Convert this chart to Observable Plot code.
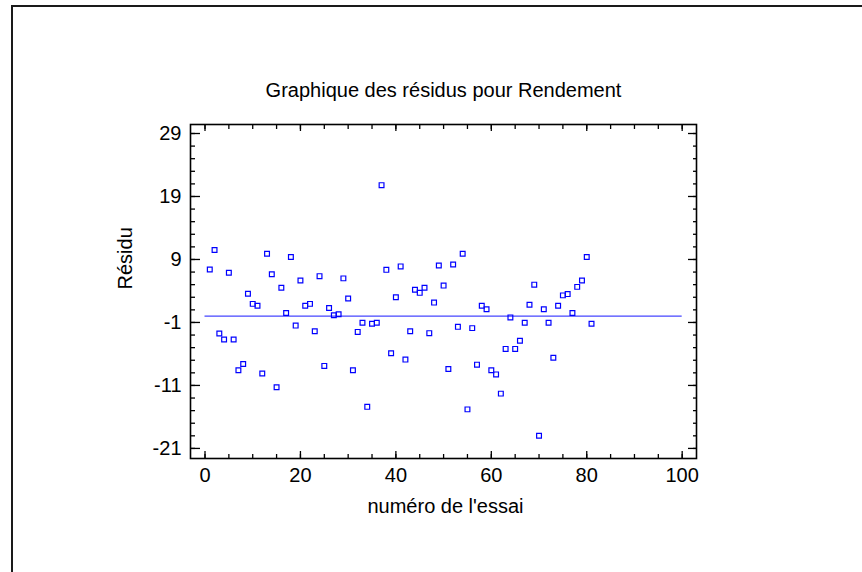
<!DOCTYPE html>
<html>
<head>
<meta charset="utf-8">
<script src="https://cdn.jsdelivr.net/npm/d3@7"></script>
<script src="https://cdn.jsdelivr.net/npm/@observablehq/plot@0.6"></script>
<style>
  html, body { margin: 0; padding: 0; background: #fff; }
  #wrap { position: relative; width: 862px; height: 572px; overflow: hidden; }
  #border { position: absolute; left: 11px; top: 5px; right: -10px; bottom: -10px;
            border-left: 2px solid #1a1a1a; border-top: 2px solid #1a1a1a; }
  #chart { position: absolute; left: 0; top: 0; }
</style>
</head>
<body>
<div id="wrap"><div id="border"></div><div id="chart"></div></div>
<script>
const titleText = "Graphique des résidus pour Rendement";
const xLabel = "numéro de l'essai";
const yLabel = "Résidu";

const residuals = [
  7.4, 10.5, -2.75, -3.7, 6.9, -3.7, -8.6, -7.6, 3.55, 1.95,
  1.65, -9.1, 9.9, 6.65, -11.3, 4.5, 0.5, 9.4, -1.5, 5.65,
  1.65, 1.95, -2.4, 6.35, -7.9, 1.3, 0.15, 0.3, 6.0, 2.8,
  -8.6, -2.5, -1.05, -14.4, -1.2, -1.05, 20.8, 7.35, -5.9, 3.0,
  7.9, -6.9, -2.4, 4.2, 3.7, 4.5, -2.7, 2.15, 8.05, 4.85,
  -8.4, 8.2, -1.7, 9.9, -14.8, -1.9, -7.7, 1.65, 1.1, -8.6,
  -9.25, -12.3, -5.2, -0.2, -5.2, -3.9, -1.05, 1.8, 5.0, -19.0,
  1.1, -1.05, -6.6, 1.65, 3.3, 3.5, 0.5, 4.65, 5.65, 9.4,
  -1.2
];
const trials = residuals.map((_, i) => i + 1);

const xMajor = [0, 20, 40, 60, 80, 100];
const xMinor = d3.range(0, 101, 5);
const yMajor = [-21, -11, -1, 9, 19, 29];
const yMinor = d3.range(-21, 30, 2);
const zeroLine = [0];

const data = trials.map((t, i) => ({trial: t, residual: residuals[i]}));

const font = "'Liberation Sans', Arial, Helvetica, sans-serif";
const plain = d => String(d);

const chart = Plot.plot({
  width: 862,
  height: 572,
  marginLeft: 190,
  marginRight: 166,
  marginTop: 124,
  marginBottom: 114,
  x: {domain: [-3.04, 103.0], label: null},
  y: {domain: [-22.6, 30.43], label: null},
  style: {fontFamily: font, fontSize: "20px", color: "#000", background: "transparent", overflow: "visible"},
  marks: [
    // inward ticks
    Plot.axisY(yMinor, {anchor: "left", tickSize: 5, dx: 5, text: null, label: null, strokeWidth: 1.3}),
    Plot.axisY(yMajor, {anchor: "left", tickSize: 10, dx: 10, text: null, label: null, strokeWidth: 1.3}),
    Plot.axisY(yMinor, {anchor: "right", tickSize: 4, dx: -4, text: null, label: null, strokeWidth: 1.3}),
    Plot.axisY(yMajor, {anchor: "right", tickSize: 9, dx: -9, text: null, label: null, strokeWidth: 1.3}),
    Plot.axisX(xMinor, {anchor: "top", tickSize: 4, dy: 4, text: null, label: null, strokeWidth: 1.3}),
    Plot.axisX(xMajor, {anchor: "top", tickSize: 6, dy: 6, text: null, label: null, strokeWidth: 1.3}),
    Plot.axisX(xMinor, {anchor: "bottom", tickSize: 4, dy: -4, text: null, label: null, strokeWidth: 1.3}),
    Plot.axisX(xMajor, {anchor: "bottom", tickSize: 7, dy: -7, text: null, label: null, strokeWidth: 1.3}),
    // tick labels
    Plot.axisY(yMajor, {anchor: "left", tickSize: 0, tickPadding: 9, label: null, fontSize: 20, tickFormat: plain}),
    Plot.axisX(xMajor, {anchor: "bottom", tickSize: 0, tickPadding: 9, label: null, fontSize: 20, tickFormat: plain}),
    // zero line
    Plot.ruleY(zeroLine, {x1: 0, x2: 100, stroke: "#4646ff", strokeWidth: 1.3}),
    // residual points
    Plot.dot(data, {x: "trial", y: "residual", symbol: "square", r: 2.7, fill: "none", stroke: "#0000ff", strokeWidth: 1.2}),
    Plot.frame({stroke: "#000", strokeWidth: 1.6}),
    // texts
    Plot.text([titleText], {text: d => d, frameAnchor: "top", dy: -42, fontSize: 20, fill: "#000"}),
    Plot.text([xLabel], {text: d => d, frameAnchor: "bottom", dy: 54, dx: 2, fontSize: 20, fill: "#000"}),
    Plot.text([yLabel], {text: d => d, frameAnchor: "left", dx: -65, dy: -2, rotate: -90, fontSize: 20, fill: "#000"})
  ]
});

document.getElementById("chart").appendChild(chart);
</script>
</body>
</html>
